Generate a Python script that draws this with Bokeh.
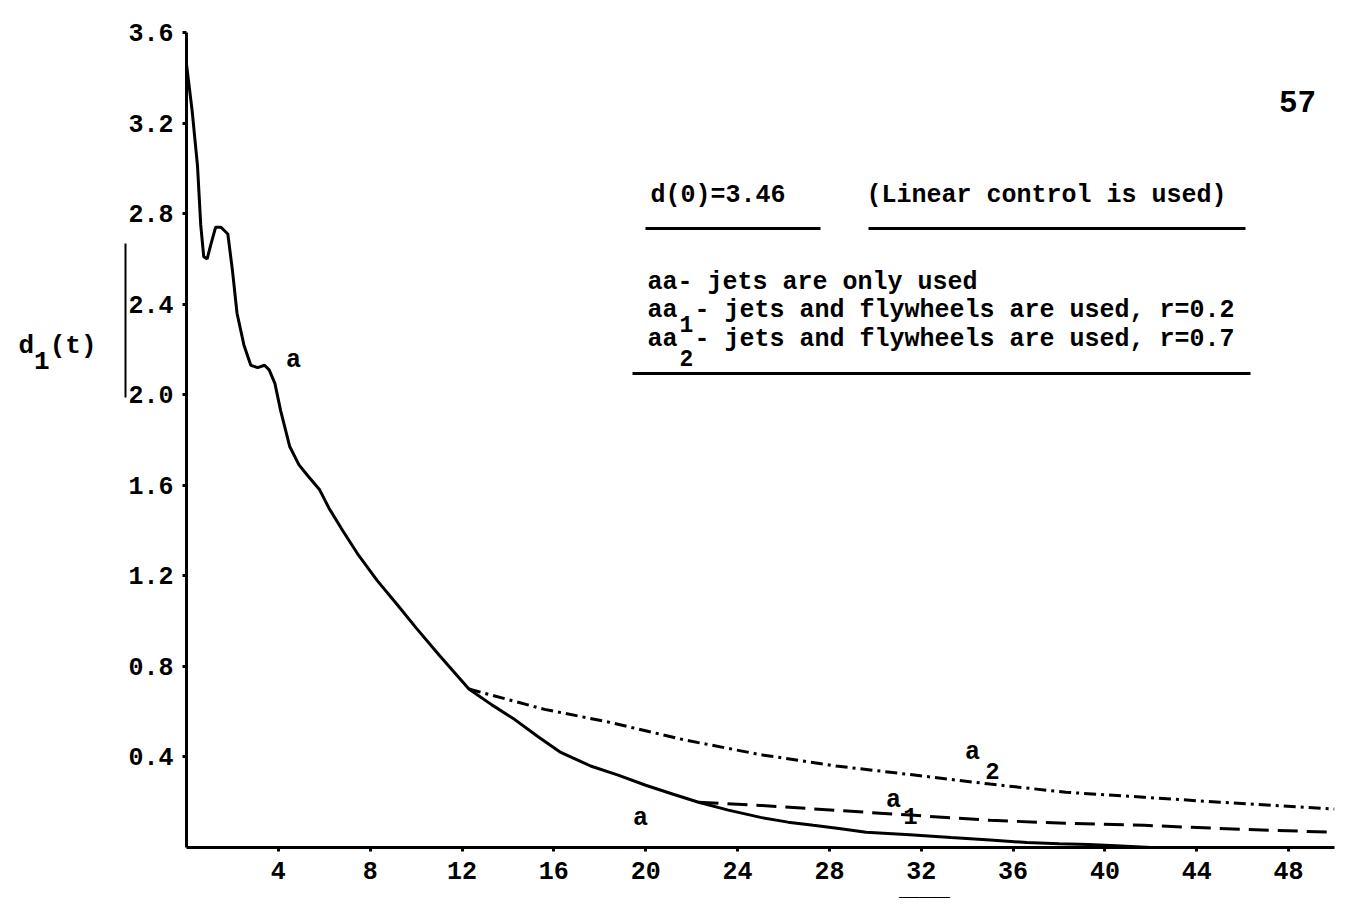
from bokeh.plotting import figure
from bokeh.models import Label, Arrow, FixedTicker, Range1d, LinearAxis
from bokeh.embed import file_html
from bokeh.resources import INLINE

# ---- data ----
# curve aa : jets are only used (solid)
a_t = [0.0, 0.25, 0.48, 0.62, 0.75, 0.9, 1.05, 1.27, 1.5, 1.8, 2.0, 2.2, 2.5, 2.8, 3.1, 3.4, 3.6, 3.85, 4.1, 4.5,
       4.9, 5.3, 5.8, 6.2, 6.8, 7.5, 8.3, 9.2, 10.0, 11.0, 12.3, 13.3, 14.3, 15.3, 16.3, 17.6, 18.8, 20.0,
       21.2, 22.3, 23.6, 25.0, 26.2, 27.3, 28.5, 29.6, 31.5, 33.3, 35.0, 36.6, 38.0, 39.3, 40.7, 42.0]
a_d = [3.46, 3.25, 3.01, 2.75, 2.61, 2.60, 2.66, 2.74, 2.74, 2.71, 2.55, 2.36, 2.22, 2.13, 2.12, 2.13, 2.11, 2.05, 1.93, 1.77,
       1.69, 1.64, 1.58, 1.50, 1.40, 1.29, 1.18, 1.07, 0.97, 0.85, 0.70, 0.63, 0.565, 0.49, 0.42, 0.36, 0.32, 0.275,
       0.235, 0.20, 0.165, 0.133, 0.112, 0.098, 0.083, 0.067, 0.056, 0.044, 0.033, 0.022, 0.017, 0.013, 0.007, 0.0]

# curve aa1 : jets and flywheels, r=0.2 (dashed)
a1_t = [22.3, 25.0, 28.3, 31.7, 35.0, 38.3, 41.7, 45.0, 50.0]
a1_d = [0.20, 0.186, 0.164, 0.142, 0.12, 0.107, 0.098, 0.084, 0.067]

# curve aa2 : jets and flywheels, r=0.7 (dash-dot)
a2_t = [12.3, 15.6, 18.3, 21.7, 25.0, 28.3, 31.7, 35.0, 38.3, 41.7, 45.0, 50.0]
a2_d = [0.70, 0.61, 0.556, 0.475, 0.41, 0.36, 0.32, 0.28, 0.244, 0.222, 0.20, 0.17]

x_ticks = [4, 8, 12, 16, 20, 24, 28, 32, 36, 40, 44, 48]
y_ticks = [0.4, 0.8, 1.2, 1.6, 2.0, 2.4, 2.8, 3.2, 3.6]

FONT = "Liberation Mono"
NB = "\u00a0"

W, H = 1336, 907
LEFT, RIGHT, TOP, BOTTOM = 186, 1334, 32, 847   # frame edges in page pixels

p = figure(width=W, height=H, output_backend="svg", toolbar_location=None,
           x_range=Range1d(0, 50), y_range=Range1d(0, 3.6),
           min_border_left=LEFT, min_border_right=W - RIGHT, min_border_top=TOP,
           min_border_bottom=H - BOTTOM)
p.outline_line_color = None
p.grid.visible = False
p.background_fill_color = "white"
p.border_fill_color = "white"


def px2x(px):
    return (px - LEFT) / (RIGHT - LEFT) * 50.0


def py2y(py):
    return (BOTTOM - py) / (BOTTOM - TOP) * 3.6


for ax in (p.xaxis[0], p.yaxis[0]):
    ax.axis_line_width = 3
    ax.axis_line_color = "black"
    ax.major_tick_line_width = 3
    ax.major_tick_in = 0
    ax.major_tick_out = 4
    ax.minor_tick_line_color = None
    ax.major_label_text_font = FONT
    ax.major_label_text_font_style = "bold"
    ax.major_label_text_font_size = "25px"
    ax.major_label_text_color = "black"

p.xaxis.ticker = FixedTicker(ticks=x_ticks)
p.yaxis.ticker = FixedTicker(ticks=y_ticks)
p.xaxis.major_label_overrides = {t: str(t) for t in x_ticks}
p.yaxis.major_label_overrides = {t: f"{t:.1f}" for t in y_ticks}
p.xaxis.major_label_standoff = 10
p.yaxis.major_label_standoff = 9

# outer left axis: short side bar, with the title d1(t) written as its tick labels
yt_main = py2y(345)
yt_sub = py2y(361)
side = LinearAxis(bounds=(py2y(397), py2y(243)), ticker=FixedTicker(ticks=[yt_main, yt_sub]),
                  axis_line_width=2, axis_line_color="black",
                  major_tick_line_color=None, minor_tick_line_color=None,
                  major_tick_out=0, major_tick_in=0, major_label_standoff=29,
                  major_label_overrides={yt_main: "d" + NB + "(t)",
                                         yt_sub: NB + "1" + NB * 3},
                  major_label_text_font=FONT, major_label_text_font_style="bold",
                  major_label_text_font_size="26px", major_label_text_color="black")
p.add_layout(side, "left")

# short stroke under the x axis labels (drawn as a row of underscores)
xs_stroke = px2x(924)
under = LinearAxis(ticker=FixedTicker(ticks=[xs_stroke]), axis_line_color=None,
                   major_tick_line_color=None, minor_tick_line_color=None,
                   major_tick_out=0, major_tick_in=0, major_label_standoff=0,
                   major_label_overrides={xs_stroke: "_____"},
                   major_label_text_font=FONT, major_label_text_font_style="bold",
                   major_label_text_font_size="17px", major_label_text_color="black")
p.add_layout(under, "below")

p.line(a_t, a_d, line_color="black", line_width=3)
p.line(a1_t, a1_d, line_color="black", line_width=3, line_dash="20 9")
p.line(a2_t, a2_d, line_color="black", line_width=3, line_dash="12 5 3 5")


def lab(px, py, t, size="25px", align="left", style="bold"):
    p.add_layout(Label(x=px2x(px), y=py2y(py), text=t, text_font=FONT, text_font_size=size,
                       text_font_style=style, text_align=align, text_baseline="middle",
                       text_color="black"))


def seg(px0, py0, px1, py1, w=3):
    p.add_layout(Arrow(x_start=px2x(px0), y_start=py2y(py0), x_end=px2x(px1), y_end=py2y(py1),
                       end=None, line_width=w, line_color="black"))


# legend block
lab(650, 195, "d(0)=3.46")
lab(866, 195, "(Linear control is used)")
seg(645, 228, 820, 228)
seg(868, 228, 1245, 228)
lab(647, 282, "aa- jets are only used")
lab(647, 310, "aa")
lab(686, 323, "1", size="23px", align="center")
lab(694, 310, "- jets and flywheels are used, r=0.2")
lab(647, 339, "aa")
lab(686, 357, "2", size="23px", align="center")
lab(694, 339, "- jets and flywheels are used, r=0.7")
seg(632, 373, 1250, 373)

# curve labels
lab(293, 360, "a", align="center")
lab(640, 818, "a", align="center")
lab(972, 752, "a", align="center")
lab(992, 770, "2", size="24px", align="center")
lab(893, 800, "a", align="center")
lab(910, 815, "1", size="24px", align="center")

# page number
lab(1297, 101, "57", size="31px", align="center")

open("out.html", "w").write(file_html(p, INLINE))
